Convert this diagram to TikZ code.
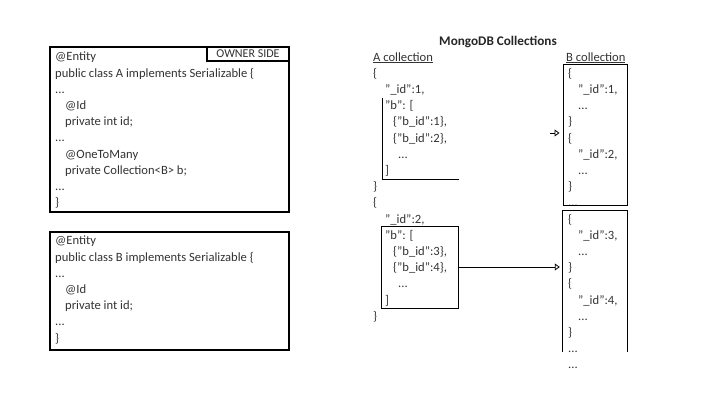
\documentclass[tikz,border=0pt]{standalone}
\usepackage{fontspec}
\setmainfont{Carlito}
\usetikzlibrary{arrows.meta}
\begin{document}
\begin{tikzpicture}[x=1pt,y=-1pt,
  code/.style={anchor=north west, align=left, inner sep=0pt, font=\fontsize{12.6}{16.2}\selectfont, text=black!80},
  thickbox/.style={draw, line width=1.6pt, inner sep=0pt},
  thinbox/.style={draw, line width=1pt, inner sep=0pt},
  thinline/.style={line width=1pt},
  link/.style={line width=0.8pt, -{Triangle[open,length=5pt,width=7pt]}, shorten >=3pt}]
\useasboundingbox[fill=white] (0,0) rectangle (720,405);

% Java class A
\node[thickbox, minimum width=239pt, minimum height=165pt] (clsA) at (169.5,129.5) {};
\node[thickbox, minimum width=82pt, minimum height=14pt, anchor=north east,
      font=\fontsize{12}{12}\selectfont, text=black!80] (owner) at (clsA.north east) {OWNER SIDE};
\node[code] (textA) at (55,52) {@Entity\\
public class A implements Serializable \{\\
...\\
\hspace*{10pt}@Id\\
\hspace*{10pt}private int id;\\
...\\
\hspace*{10pt}@OneToMany\\
\hspace*{10pt}private Collection<B> b;\\
...\\
\}};

% Java class B
\node[thickbox, minimum width=239pt, minimum height=118pt] (clsB) at (169.5,291) {};
\node[code] (textB) at (55,236) {@Entity\\
public class B implements Serializable \{\\
...\\
\hspace*{10pt}@Id\\
\hspace*{10pt}private int id;\\
...\\
\}};

% MongoDB
\node[font=\bfseries\fontsize{13.2}{13}\selectfont, text=black!85] (title) at (498,42) {MongoDB Collections};
\node[anchor=base west, inner sep=0pt, font=\fontsize{12.6}{12}\selectfont, text=black!80] (acol) at (373,61) {\underline{A collection}};
\node[anchor=base west, inner sep=0pt, font=\fontsize{12.6}{12}\selectfont, text=black!80] (bcol) at (566,61) {\underline{B collection}};

\node[code] (textAc) at (373,68) {\{\\
\hspace*{12pt}"\_id":1,\\
\hspace*{12pt}"b": [\\
\hspace*{20pt}\{"b\_id":1\},\\
\hspace*{20pt}\{"b\_id":2\},\\
\hspace*{25pt}...\\
\hspace*{12pt}]\\
\}\\
\{\\
\hspace*{12pt}"\_id":2,\\
\hspace*{12pt}"b": [\\
\hspace*{20pt}\{"b\_id":3\},\\
\hspace*{20pt}\{"b\_id":4\},\\
\hspace*{25pt}...\\
\hspace*{12pt}]\\
\}};

\draw[thinline] (382,98) -- (382,179) -- (459,179);
\node[thinbox, minimum width=77pt, minimum height=82pt] (ab2) at (419.5,267) {};

\node[code] (textBc) at (568,68) {\{\\
\hspace*{10pt}"\_id":1,\\
\hspace*{10pt}...\\
\}\\
\{\\
\hspace*{10pt}"\_id":2,\\
\hspace*{10pt}...\\
\}\\
...\\
\{\\
\hspace*{10pt}"\_id":3,\\
\hspace*{10pt}...\\
\}\\
\{\\
\hspace*{10pt}"\_id":4,\\
\hspace*{10pt}...\\
\}\\
...\\
...};

\node[thinbox, minimum width=64pt, minimum height=141pt] (bb1) at (595,134.5) {};
\node[inner sep=0pt, minimum width=64pt, minimum height=141pt] (bb2) at (595,281.5) {};
\draw[thinline] (bb2.south west) -- (bb2.north west) -- (bb2.north east) -- (bb2.south east);

\coordinate (stub) at (550,133);
\draw[link] (stub) -- (stub -| bb1.west);
\draw[link] (ab2.east) -- (ab2.east -| bb2.west);
\end{tikzpicture}
\end{document}
